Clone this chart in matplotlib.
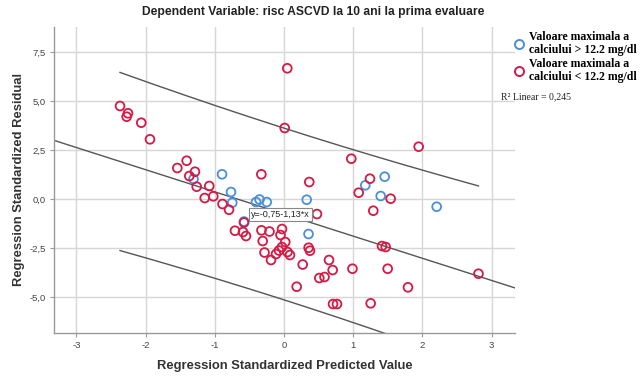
import numpy as np
import matplotlib
matplotlib.use("Agg")
import matplotlib.pyplot as plt
from matplotlib.lines import Line2D

# ---- data ----
red_x = [-2.371, -2.256, -2.275, -2.064, -1.938, -1.408, -1.543, -1.288, -1.370, -1.263,
         -1.081, -1.147, -1.023, -0.890, -0.796, -0.579, -0.710, -0.594, -0.551, -0.327,
         -0.211, -0.030, -0.052, -0.309, 0.017, -0.030, -0.074, -0.117, 0.049, 0.085,
         -0.283, -0.189, 0.355, 0.374, 0.269, 0.649, 0.702, 0.509, 0.584, 0.182,
         0.707, 0.764, 1.251, 1.790, 2.809, 0.988, 1.497, 1.415, 1.468, 1.289,
         1.078, 1.241, 1.540, 0.971, 1.945, 0.046, 0.009, -0.329, 0.364, 0.475]
red_y = [4.760, 4.388, 4.214, 3.908, 3.061, 1.969, 1.597, 1.408, 1.189, 0.643,
         0.679, 0.066, 0.153, -0.240, -0.531, -1.184, -1.602, -1.668, -1.872, -1.582,
         -1.643, -1.515, -1.821, -2.128, -2.179, -2.434, -2.612, -2.791, -2.689, -2.842,
         -2.714, -3.097, -2.469, -2.622, -3.327, -3.097, -3.607, -4.015, -3.964, -4.459,
         -5.342, -5.342, -5.306, -4.490, -3.796, -3.541, -3.541, -2.383, -2.434, -0.582,
         0.337, 1.051, 0.031, 2.071, 2.684, 6.684, 3.638, 1.276, 0.883, -0.750]
blue_x = [-0.897, -1.309, -0.767, -0.749, -0.406, -0.355, -0.251, 0.327, 0.353, -0.579,
          1.173, 1.454, 1.396, 2.205]
blue_y = [1.276, 1.036, 0.372, -0.173, -0.138, -0.010, -0.138, -0.020, -1.770, -1.133,
          0.714, 1.153, 0.168, -0.378]

fit_intercept = -0.75
fit_slope = -1.13
r2_text = "0,245"
band_halfwidth = 4.38

x_ticks = [-3, -2, -1, 0, 1, 2, 3]
x_ticklabels = ["-3", "-2", "-1", "0", "1", "2", "3"]
y_ticks = [-5.0, -2.5, 0.0, 2.5, 5.0, 7.5]
y_ticklabels = ["-5,0", "-2,5", "0,0", "2,5", "5,0", "7,5"]

title = "Dependent Variable: risc ASCVD la 10 ani la prima evaluare"
xlabel = "Regression Standardized Predicted Value"
ylabel = "Regression Standardized Residual"
legend_labels = ["Valoare maximala a\ncalciului > 12.2 mg/dl",
                 "Valoare maximala a\ncalciului < 12.2 mg/dl"]

BLUE = "#4a8fdc"
RED = "#d41a45"
GRID = "#d6d6d6"
LINE = "#555555"

plt.rcParams["font.family"] = ["Liberation Sans", "DejaVu Sans"]

fig = plt.figure(figsize=(6.44, 3.76), dpi=100)
ax = fig.add_axes([54 / 644, 43 / 376, 461 / 644, 306 / 376])

xlim = (-3.325, 3.337)
ylim = (-6.82, 8.79)
ax.set_xlim(*xlim)
ax.set_ylim(*ylim)

ax.set_xticks(x_ticks)
ax.set_xticklabels(x_ticklabels)
ax.set_yticks(y_ticks)
ax.set_yticklabels(y_ticklabels)
ax.grid(True, color=GRID, linewidth=1.0)
ax.set_axisbelow(True)
for s in ["top", "right"]:
    ax.spines[s].set_visible(False)
for s in ["left", "bottom"]:
    ax.spines[s].set_color("#9a9a9a")
    ax.spines[s].set_linewidth(1.0)
ax.tick_params(axis="both", length=3, color="#9a9a9a", labelsize=6.8,
               labelcolor="#444444", pad=3)

# fit line and prediction bands
all_x = np.array(red_x + blue_x)
n = len(all_x)
xl = np.linspace(xlim[0], xlim[1], 200)
ax.plot(xl, fit_intercept + fit_slope * xl, color=LINE, lw=1.0, zorder=2)
xb = np.linspace(all_x.min(), all_x.max(), 200)
scale = np.sqrt(1 + 1 / n + xb ** 2 / (n - 1)) / np.sqrt(1 + 1 / n)
yb = fit_intercept + fit_slope * xb
ax.plot(xb, yb + band_halfwidth * scale, color=LINE, lw=1.0, zorder=2)
ax.plot(xb, yb - band_halfwidth * scale, color=LINE, lw=1.0, zorder=2)

ax.scatter(blue_x, blue_y, s=40, facecolors="none", edgecolors=BLUE,
           linewidths=1.3, zorder=3)
ax.scatter(red_x, red_y, s=40, facecolors="none", edgecolors=RED,
           linewidths=1.3, zorder=4)

ax.text(-0.478, -0.78, "y=-0,75-1,13*x", fontsize=6.5, color="#222222",
        ha="left", va="center", zorder=5,
        bbox=dict(boxstyle="square,pad=0.2", fc="white", ec="#888888", lw=0.8))

fig.text(313 / 644, 1 - 12 / 376, title, ha="center", va="center",
         fontsize=8.7, fontweight="bold", color="#222222")
ax.set_xlabel(xlabel, fontsize=9.4, fontweight="bold", color="#333333")
ax.set_ylabel(ylabel, fontsize=9.4, fontweight="bold", color="#333333")
ax.xaxis.set_label_coords(0.5, (333 - 366) / 306, transform=ax.transAxes)
ax.yaxis.set_label_coords((19 - 54) / 461, 0.5, transform=ax.transAxes)
ax.xaxis.label.set_va("center")
ax.yaxis.label.set_va("center")

handles = [Line2D([], [], marker="o", linestyle="none", markersize=6.5,
                  markerfacecolor="none", markeredgecolor=BLUE, markeredgewidth=1.4),
           Line2D([], [], marker="o", linestyle="none", markersize=6.5,
                  markerfacecolor="none", markeredgecolor=RED, markeredgewidth=1.4)]
fig.legend(handles, legend_labels, loc="upper left",
           bbox_to_anchor=(512 / 644, 1 - 31 / 376), frameon=False,
           prop={"family": "Liberation Serif", "weight": "bold", "size": 8.5},
           handletextpad=0.2, handlelength=1.2, labelspacing=0.2,
           borderpad=0, borderaxespad=0)
for t in fig.legends[0].get_texts():
    t.set_linespacing(1.1)
fig.text(501 / 644, 1 - 97 / 376, "R\u00b2 Linear = " + r2_text, ha="left",
         va="center", fontsize=7, family="Liberation Serif", color="#222222")

fig.savefig("out.png", dpi=100)
